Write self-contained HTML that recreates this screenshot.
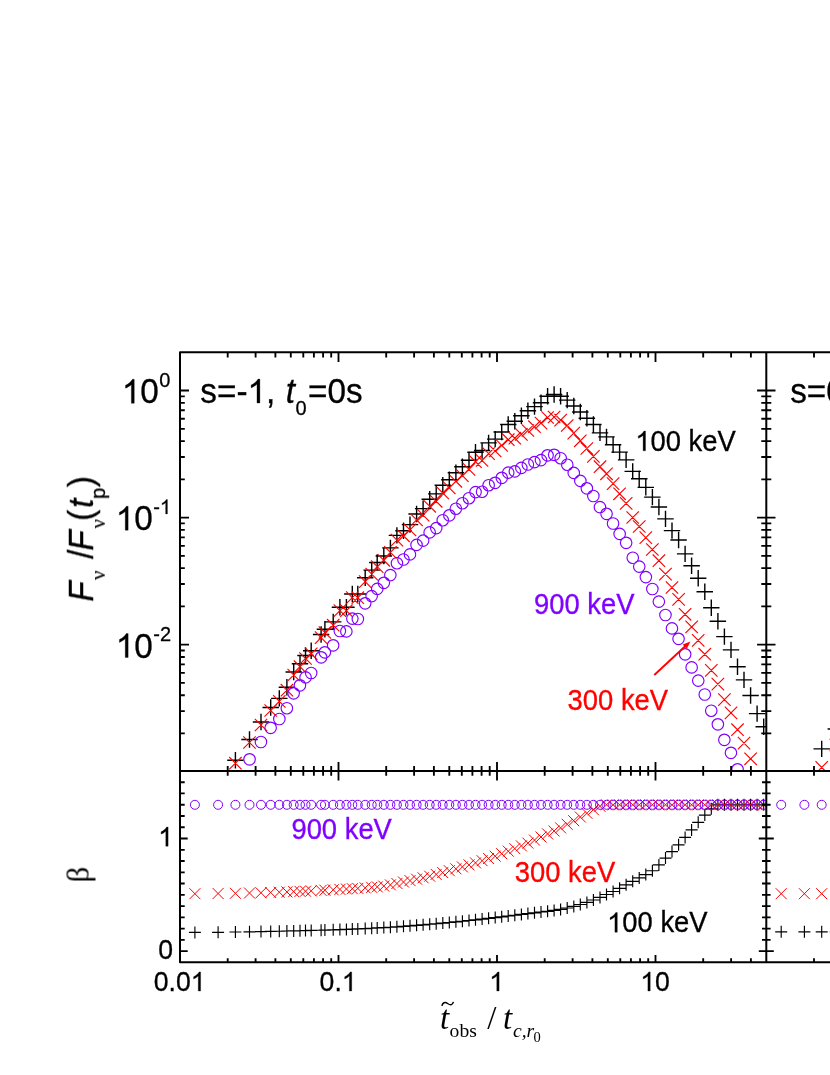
<!DOCTYPE html>
<html><head><meta charset="utf-8"><title>chart</title>
<style>html,body{margin:0;padding:0;background:#fff}svg{display:block}text{font-family:"Liberation Sans",sans-serif;fill:#000}.ser{font-family:"Liberation Serif",serif}</style></head><body>
<svg width="830" height="1075" viewBox="0 0 830 1075">
<rect width="830" height="1075" fill="#fff"/>
<defs>
<clipPath id="c1"><rect x="180.0" y="352.3" width="586.3" height="418.59999999999997"/></clipPath>
<clipPath id="c2"><rect x="766.3" y="352.3" width="63.700000000000045" height="418.59999999999997"/></clipPath>
<clipPath id="c3"><rect x="180.0" y="770.9" width="586.3" height="191.30000000000007"/></clipPath>
<clipPath id="c4"><rect x="766.3" y="770.9" width="63.700000000000045" height="191.30000000000007"/></clipPath>
</defs>
<g clip-path="url(#c1)">
<path d="M186.7 805.0H203.1M194.9 796.8V813.2M209.9 782.0H226.3M218.1 773.8V790.2M227.2 760.2H243.6M235.4 752.0V768.4M241.3 739.5H257.7M249.5 731.3V747.7M252.8 722.0H269.2M261.0 713.8V730.2M262.5 707.5H278.9M270.7 699.3V715.7M271.1 698.4H287.5M279.3 690.2V706.6M278.7 687.2H295.1M286.9 679.0V695.4M285.5 672.0H301.9M293.7 663.8V680.2M291.8 663.7H308.2M300.0 655.5V671.9M297.3 655.5H313.7M305.5 647.3V663.7M303.0 650.8H319.4M311.2 642.6V659.0M312.9 634.5H329.3M321.1 626.3V642.7M316.7 629.3H333.1M324.9 621.1V637.5M325.0 621.9H341.4M333.2 613.7V630.1M331.7 607.2H348.1M339.9 599.0V615.4M338.2 607.2H354.6M346.4 599.0V615.4M344.1 594.0H360.5M352.3 585.8V602.2M349.6 594.0H366.0M357.8 585.8V602.2M357.0 577.7H373.4M365.2 569.5V585.9M363.5 570.1H379.9M371.7 561.9V578.3M369.1 562.5H385.4M377.2 554.3V570.7M375.6 556.0H392.0M383.8 547.8V564.2M382.2 547.9H398.6M390.4 539.7V556.1M388.7 535.4H405.1M396.9 527.2V543.6M395.3 530.8H411.7M403.5 522.6V539.0M401.8 524.6H418.2M410.0 516.4V532.8M408.4 514.0H424.8M416.6 505.8V522.2M414.9 508.6H431.3M423.1 500.4V516.8M421.5 499.3H437.9M429.7 491.1V507.5M428.0 493.9H444.4M436.2 485.7V502.1M434.6 485.2H450.9M442.8 477.0V493.4M441.1 479.8H457.5M449.3 471.6V488.0M447.7 472.8H464.1M455.9 464.6V481.0M454.2 466.8H470.6M462.4 458.6V475.0M460.8 460.3H477.2M469.0 452.1V468.5M467.3 452.2H483.7M475.5 444.0V460.4M473.9 450.5H490.2M482.1 442.3V458.7M480.4 442.9H496.8M488.6 434.7V451.1M487.0 439.1H503.4M495.2 430.9V447.3M493.5 432.0H509.9M501.7 423.8V440.2M500.1 424.5H516.5M508.2 416.3V432.7M506.6 421.2H523.0M514.8 413.0V429.4M513.1 415.8H529.6M521.4 407.6V424.0M519.7 410.7H536.1M527.9 402.5V418.9M526.2 406.6H542.7M534.5 398.4V414.8M532.8 402.8H549.2M541.0 394.6V411.0M539.4 396.3H555.8M547.6 388.1V404.5M545.9 394.5H562.3M554.1 386.3V402.7M552.4 396.2H568.9M560.6 388.0V404.4M559.0 400.1H575.4M567.2 391.9V408.3M565.5 406.0H582.0M573.8 397.8V414.2M572.1 412.0H588.5M580.3 403.8V420.2M578.6 418.2H595.1M586.9 410.0V426.4M585.2 424.5H601.6M593.4 416.3V432.7M591.8 432.9H608.2M600.0 424.7V441.1M598.3 436.9H614.7M606.5 428.7V445.1M604.9 444.7H621.3M613.1 436.5V452.9M611.4 452.1H627.8M619.6 443.9V460.3M617.9 459.9H634.4M626.1 451.7V468.1M624.5 471.4H640.9M632.7 463.2V479.6M631.0 478.7H647.5M639.2 470.5V486.9M637.6 487.4H654.0M645.8 479.2V495.6M644.1 497.1H660.6M652.4 488.9V505.3M650.7 507.0H667.1M658.9 498.8V515.2M657.2 518.9H673.7M665.5 510.7V527.1M663.8 530.6H680.2M672.0 522.4V538.8M670.4 540.0H686.8M678.6 531.8V548.2M676.9 553.9H693.3M685.1 545.7V562.1M683.4 565.8H699.9M691.6 557.6V574.0M690.0 578.2H706.4M698.2 570.0V586.4M696.5 591.8H713.0M704.8 583.6V600.0M703.1 607.8H719.5M711.3 599.6V616.0M709.6 621.2H726.1M717.9 613.0V629.4M716.2 636.6H732.6M724.4 628.4V644.8M722.8 649.9H739.2M731.0 641.7V658.1M729.3 666.7H745.7M737.5 658.5V674.9M735.8 679.9H752.2M744.0 671.7V688.1M742.4 695.5H758.8M750.6 687.3V703.7M748.9 713.6H765.4M757.1 705.4V721.8M755.5 726.7H771.9M763.7 718.5V734.9" stroke="#000000" stroke-width="1.4" fill="none"/>
<path d="M188.7 801.8L201.1 814.2M188.7 814.2L201.1 801.8M211.9 778.8L224.3 791.2M211.9 791.2L224.3 778.8M229.2 757.0L241.6 769.4M229.2 769.4L241.6 757.0M243.3 736.3L255.7 748.7M243.3 748.7L255.7 736.3M254.8 718.8L267.2 731.2M254.8 731.2L267.2 718.8M264.5 704.3L276.9 716.7M264.5 716.7L276.9 704.3M273.1 695.2L285.5 707.6M273.1 707.6L285.5 695.2M280.7 684.0L293.1 696.4M280.7 696.4L293.1 684.0M287.5 668.8L299.9 681.2M287.5 681.2L299.9 668.8M293.8 660.5L306.2 672.9M293.8 672.9L306.2 660.5M299.3 652.3L311.7 664.7M299.3 664.7L311.7 652.3M305.0 647.6L317.4 660.0M305.0 660.0L317.4 647.6M314.9 631.4L327.3 643.8M314.9 643.8L327.3 631.4M318.7 626.3L331.1 638.7M318.7 638.7L331.1 626.3M327.0 619.0L339.4 631.4M327.0 631.4L339.4 619.0M333.7 604.4L346.1 616.8M333.7 616.8L346.1 604.4M340.2 604.5L352.6 616.9M340.2 616.9L352.6 604.5M346.1 591.4L358.5 603.8M346.1 603.8L358.5 591.4M351.6 591.5L364.0 603.9M351.6 603.9L364.0 591.5M359.0 575.4L371.4 587.8M359.0 587.8L371.4 575.4M365.5 567.9L377.9 580.3M365.5 580.3L377.9 567.9M371.1 560.4L383.4 572.8M371.1 572.8L383.4 560.4M377.6 554.1L390.0 566.5M377.6 566.5L390.0 554.1M384.2 546.2L396.6 558.6M384.2 558.6L396.6 546.2M390.7 533.9L403.1 546.3M390.7 546.3L403.1 533.9M397.3 529.6L409.7 542.0M397.3 542.0L409.7 529.6M403.8 523.7L416.2 536.1M403.8 536.1L416.2 523.7M410.4 513.7L422.8 526.1M410.4 526.1L422.8 513.7M416.9 508.9L429.3 521.3M416.9 521.3L429.3 508.9M423.5 500.1L435.9 512.5M423.5 512.5L435.9 500.1M430.0 495.1L442.4 507.5M430.0 507.5L442.4 495.1M436.6 486.8L448.9 499.2M436.6 499.2L448.9 486.8M443.1 481.7L455.5 494.1M443.1 494.1L455.5 481.7M449.7 475.1L462.1 487.5M449.7 487.5L462.1 475.1M456.2 469.4L468.6 481.8M456.2 481.8L468.6 469.4M462.8 463.2L475.2 475.6M462.8 475.6L475.2 463.2M469.3 455.5L481.7 467.9M469.3 467.9L481.7 455.5M475.9 454.3L488.2 466.7M475.9 466.7L488.2 454.3M482.4 447.4L494.8 459.8M482.4 459.8L494.8 447.4M489.0 444.8L501.4 457.2M489.0 457.2L501.4 444.8M495.5 439.2L507.9 451.6M495.5 451.6L507.9 439.2M502.1 433.5L514.5 445.9M502.1 445.9L514.5 433.5M508.6 432.0L521.0 444.4M508.6 444.4L521.0 432.0M515.1 428.2L527.6 440.6M515.1 440.6L527.6 428.2M521.7 424.3L534.1 436.7M521.7 436.7L534.1 424.3M528.2 420.5L540.7 432.9M528.2 432.9L540.7 420.5M534.8 416.9L547.2 429.3M534.8 429.3L547.2 416.9M541.4 411.3L553.8 423.7M541.4 423.7L553.8 411.3M547.9 410.8L560.3 423.2M547.9 423.2L560.3 410.8M554.4 413.9L566.9 426.3M554.4 426.3L566.9 413.9M561.0 419.3L573.4 431.7M561.0 431.7L573.4 419.3M567.5 426.9L580.0 439.3M567.5 439.3L580.0 426.9M574.1 434.6L586.5 447.0M574.1 447.0L586.5 434.6M580.6 442.3L593.1 454.7M580.6 454.7L593.1 442.3M587.2 450.2L599.6 462.6M587.2 462.6L599.6 450.2M593.8 460.5L606.2 472.9M593.8 472.9L606.2 460.5M600.3 467.6L612.7 480.0M600.3 480.0L612.7 467.6M606.9 477.4L619.3 489.8M606.9 489.8L619.3 477.4M613.4 487.6L625.8 500.0M613.4 500.0L625.8 487.6M619.9 497.2L632.4 509.6M619.9 509.6L632.4 497.2M626.5 511.3L638.9 523.7M626.5 523.7L638.9 511.3M633.0 520.3L645.5 532.7M633.0 532.7L645.5 520.3M639.6 531.4L652.0 543.8M639.6 543.8L652.0 531.4M646.1 543.3L658.6 555.7M646.1 555.7L658.6 543.3M652.7 554.5L665.1 566.9M652.7 566.9L665.1 554.5M659.2 567.9L671.7 580.3M659.2 580.3L671.7 567.9M665.8 581.3L678.2 593.7M665.8 593.7L678.2 581.3M672.4 593.2L684.8 605.6M672.4 605.6L684.8 593.2M678.9 608.1L691.3 620.5M678.9 620.5L691.3 608.1M685.4 620.7L697.9 633.1M685.4 633.1L697.9 620.7M692.0 634.2L704.4 646.6M692.0 646.6L704.4 634.2M698.5 648.0L711.0 660.4M698.5 660.4L711.0 648.0M705.1 664.2L717.5 676.6M705.1 676.6L717.5 664.2M711.6 677.9L724.1 690.3M711.6 690.3L724.1 677.9M718.2 693.4L730.6 705.8M718.2 705.8L730.6 693.4M724.8 706.7L737.2 719.1M724.8 719.1L737.2 706.7M731.3 723.5L743.7 735.9M731.3 735.9L743.7 723.5M737.8 736.9L750.2 749.3M737.8 749.3L750.2 736.9M744.4 752.6L756.8 765.0M744.4 765.0L756.8 752.6M750.9 770.7L763.4 783.1M750.9 783.1L763.4 770.7M757.5 783.9L769.9 796.3M757.5 796.3L769.9 783.9" stroke="#ff0000" stroke-width="1.15" fill="none"/>
<path d="M189.2 824.5a5.75 5.75 0 1 0 11.5 0a5.75 5.75 0 1 0 -11.5 0M212.3 801.6a5.75 5.75 0 1 0 11.5 0a5.75 5.75 0 1 0 -11.5 0M229.7 779.9a5.75 5.75 0 1 0 11.5 0a5.75 5.75 0 1 0 -11.5 0M243.8 759.3a5.75 5.75 0 1 0 11.5 0a5.75 5.75 0 1 0 -11.5 0M255.2 742.0a5.75 5.75 0 1 0 11.5 0a5.75 5.75 0 1 0 -11.5 0M264.9 727.8a5.75 5.75 0 1 0 11.5 0a5.75 5.75 0 1 0 -11.5 0M273.6 719.0a5.75 5.75 0 1 0 11.5 0a5.75 5.75 0 1 0 -11.5 0M281.1 708.2a5.75 5.75 0 1 0 11.5 0a5.75 5.75 0 1 0 -11.5 0M287.9 693.3a5.75 5.75 0 1 0 11.5 0a5.75 5.75 0 1 0 -11.5 0M294.2 685.3a5.75 5.75 0 1 0 11.5 0a5.75 5.75 0 1 0 -11.5 0M299.8 677.4a5.75 5.75 0 1 0 11.5 0a5.75 5.75 0 1 0 -11.5 0M305.4 673.0a5.75 5.75 0 1 0 11.5 0a5.75 5.75 0 1 0 -11.5 0M315.4 657.3a5.75 5.75 0 1 0 11.5 0a5.75 5.75 0 1 0 -11.5 0M319.1 652.3a5.75 5.75 0 1 0 11.5 0a5.75 5.75 0 1 0 -11.5 0M327.4 645.3a5.75 5.75 0 1 0 11.5 0a5.75 5.75 0 1 0 -11.5 0M334.1 631.0a5.75 5.75 0 1 0 11.5 0a5.75 5.75 0 1 0 -11.5 0M340.6 631.4a5.75 5.75 0 1 0 11.5 0a5.75 5.75 0 1 0 -11.5 0M346.6 618.6a5.75 5.75 0 1 0 11.5 0a5.75 5.75 0 1 0 -11.5 0M352.1 619.0a5.75 5.75 0 1 0 11.5 0a5.75 5.75 0 1 0 -11.5 0M359.4 603.3a5.75 5.75 0 1 0 11.5 0a5.75 5.75 0 1 0 -11.5 0M365.9 596.1a5.75 5.75 0 1 0 11.5 0a5.75 5.75 0 1 0 -11.5 0M371.5 588.9a5.75 5.75 0 1 0 11.5 0a5.75 5.75 0 1 0 -11.5 0M378.1 582.8a5.75 5.75 0 1 0 11.5 0a5.75 5.75 0 1 0 -11.5 0M384.6 575.1a5.75 5.75 0 1 0 11.5 0a5.75 5.75 0 1 0 -11.5 0M391.2 563.2a5.75 5.75 0 1 0 11.5 0a5.75 5.75 0 1 0 -11.5 0M397.7 559.5a5.75 5.75 0 1 0 11.5 0a5.75 5.75 0 1 0 -11.5 0M404.2 554.4a5.75 5.75 0 1 0 11.5 0a5.75 5.75 0 1 0 -11.5 0M410.8 544.9a5.75 5.75 0 1 0 11.5 0a5.75 5.75 0 1 0 -11.5 0M417.4 540.6a5.75 5.75 0 1 0 11.5 0a5.75 5.75 0 1 0 -11.5 0M423.9 532.4a5.75 5.75 0 1 0 11.5 0a5.75 5.75 0 1 0 -11.5 0M430.5 528.1a5.75 5.75 0 1 0 11.5 0a5.75 5.75 0 1 0 -11.5 0M437.0 520.2a5.75 5.75 0 1 0 11.5 0a5.75 5.75 0 1 0 -11.5 0M443.6 515.3a5.75 5.75 0 1 0 11.5 0a5.75 5.75 0 1 0 -11.5 0M450.1 508.7a5.75 5.75 0 1 0 11.5 0a5.75 5.75 0 1 0 -11.5 0M456.7 503.2a5.75 5.75 0 1 0 11.5 0a5.75 5.75 0 1 0 -11.5 0M463.2 498.2a5.75 5.75 0 1 0 11.5 0a5.75 5.75 0 1 0 -11.5 0M469.8 492.1a5.75 5.75 0 1 0 11.5 0a5.75 5.75 0 1 0 -11.5 0M476.3 491.7a5.75 5.75 0 1 0 11.5 0a5.75 5.75 0 1 0 -11.5 0M482.9 485.2a5.75 5.75 0 1 0 11.5 0a5.75 5.75 0 1 0 -11.5 0M489.4 482.8a5.75 5.75 0 1 0 11.5 0a5.75 5.75 0 1 0 -11.5 0M496.0 477.8a5.75 5.75 0 1 0 11.5 0a5.75 5.75 0 1 0 -11.5 0M502.5 472.6a5.75 5.75 0 1 0 11.5 0a5.75 5.75 0 1 0 -11.5 0M509.1 471.4a5.75 5.75 0 1 0 11.5 0a5.75 5.75 0 1 0 -11.5 0M515.6 467.9a5.75 5.75 0 1 0 11.5 0a5.75 5.75 0 1 0 -11.5 0M522.1 464.5a5.75 5.75 0 1 0 11.5 0a5.75 5.75 0 1 0 -11.5 0M528.7 462.1a5.75 5.75 0 1 0 11.5 0a5.75 5.75 0 1 0 -11.5 0M535.2 460.1a5.75 5.75 0 1 0 11.5 0a5.75 5.75 0 1 0 -11.5 0M541.8 455.3a5.75 5.75 0 1 0 11.5 0a5.75 5.75 0 1 0 -11.5 0M548.4 454.8a5.75 5.75 0 1 0 11.5 0a5.75 5.75 0 1 0 -11.5 0M554.9 458.2a5.75 5.75 0 1 0 11.5 0a5.75 5.75 0 1 0 -11.5 0M561.5 464.7a5.75 5.75 0 1 0 11.5 0a5.75 5.75 0 1 0 -11.5 0M568.0 472.9a5.75 5.75 0 1 0 11.5 0a5.75 5.75 0 1 0 -11.5 0M574.6 480.9a5.75 5.75 0 1 0 11.5 0a5.75 5.75 0 1 0 -11.5 0M581.1 488.3a5.75 5.75 0 1 0 11.5 0a5.75 5.75 0 1 0 -11.5 0M587.6 496.0a5.75 5.75 0 1 0 11.5 0a5.75 5.75 0 1 0 -11.5 0M594.2 507.1a5.75 5.75 0 1 0 11.5 0a5.75 5.75 0 1 0 -11.5 0M600.8 513.8a5.75 5.75 0 1 0 11.5 0a5.75 5.75 0 1 0 -11.5 0M607.3 523.5a5.75 5.75 0 1 0 11.5 0a5.75 5.75 0 1 0 -11.5 0M613.9 533.9a5.75 5.75 0 1 0 11.5 0a5.75 5.75 0 1 0 -11.5 0M620.4 542.8a5.75 5.75 0 1 0 11.5 0a5.75 5.75 0 1 0 -11.5 0M627.0 557.7a5.75 5.75 0 1 0 11.5 0a5.75 5.75 0 1 0 -11.5 0M633.5 566.6a5.75 5.75 0 1 0 11.5 0a5.75 5.75 0 1 0 -11.5 0M640.1 577.1a5.75 5.75 0 1 0 11.5 0a5.75 5.75 0 1 0 -11.5 0M646.6 589.0a5.75 5.75 0 1 0 11.5 0a5.75 5.75 0 1 0 -11.5 0M653.1 601.6a5.75 5.75 0 1 0 11.5 0a5.75 5.75 0 1 0 -11.5 0M659.7 615.0a5.75 5.75 0 1 0 11.5 0a5.75 5.75 0 1 0 -11.5 0M666.2 628.4a5.75 5.75 0 1 0 11.5 0a5.75 5.75 0 1 0 -11.5 0M672.8 638.8a5.75 5.75 0 1 0 11.5 0a5.75 5.75 0 1 0 -11.5 0M679.4 654.3a5.75 5.75 0 1 0 11.5 0a5.75 5.75 0 1 0 -11.5 0M685.9 667.4a5.75 5.75 0 1 0 11.5 0a5.75 5.75 0 1 0 -11.5 0M692.5 680.6a5.75 5.75 0 1 0 11.5 0a5.75 5.75 0 1 0 -11.5 0M699.0 694.5a5.75 5.75 0 1 0 11.5 0a5.75 5.75 0 1 0 -11.5 0M705.5 710.7a5.75 5.75 0 1 0 11.5 0a5.75 5.75 0 1 0 -11.5 0M712.1 724.3a5.75 5.75 0 1 0 11.5 0a5.75 5.75 0 1 0 -11.5 0M718.6 739.8a5.75 5.75 0 1 0 11.5 0a5.75 5.75 0 1 0 -11.5 0M725.2 752.8a5.75 5.75 0 1 0 11.5 0a5.75 5.75 0 1 0 -11.5 0M731.8 769.3a5.75 5.75 0 1 0 11.5 0a5.75 5.75 0 1 0 -11.5 0M738.3 782.5a5.75 5.75 0 1 0 11.5 0a5.75 5.75 0 1 0 -11.5 0M744.9 798.0a5.75 5.75 0 1 0 11.5 0a5.75 5.75 0 1 0 -11.5 0M751.4 816.1a5.75 5.75 0 1 0 11.5 0a5.75 5.75 0 1 0 -11.5 0M758.0 829.2a5.75 5.75 0 1 0 11.5 0a5.75 5.75 0 1 0 -11.5 0" stroke="#8000ff" stroke-width="1.15" fill="none"/>
</g>
<g clip-path="url(#c3)">
<path d="M188.9 932.4H200.9M194.9 926.4V938.4M212.1 932.3H224.1M218.1 926.3V938.3M229.4 932.0H241.4M235.4 926.0V938.0M243.5 931.8H255.5M249.5 925.8V937.8M255.0 931.6H267.0M261.0 925.6V937.6M264.7 931.4H276.7M270.7 925.4V937.4M273.3 931.2H285.3M279.3 925.2V937.2M280.9 931.0H292.9M286.9 925.0V937.0M287.7 930.9H299.7M293.7 924.9V936.9M294.0 930.7H306.0M300.0 924.7V936.7M299.5 930.6H311.5M305.5 924.6V936.6M305.2 930.4H317.2M311.2 924.4V936.4M315.1 930.2H327.1M321.1 924.2V936.2M318.9 930.1H330.9M324.9 924.1V936.1M327.2 929.8H339.2M333.2 923.8V935.8M333.9 929.6H345.9M339.9 923.6V935.6M340.4 929.4H352.4M346.4 923.4V935.4M346.3 929.1H358.3M352.3 923.1V935.1M351.8 928.9H363.8M357.8 922.9V934.9M359.2 928.6H371.2M365.2 922.6V934.6M365.7 928.2H377.7M371.7 922.2V934.2M371.2 927.9H383.2M377.2 921.9V933.9M377.8 927.6H389.8M383.8 921.6V933.6M384.4 927.2H396.4M390.4 921.2V933.2M390.9 926.8H402.9M396.9 920.8V932.8M397.5 926.3H409.5M403.5 920.3V932.3M404.0 925.8H416.0M410.0 919.8V931.8M410.6 925.3H422.6M416.6 919.3V931.3M417.1 924.8H429.1M423.1 918.8V930.8M423.7 924.2H435.7M429.7 918.2V930.2M430.2 923.7H442.2M436.2 917.7V929.7M436.8 923.1H448.8M442.8 917.1V929.1M443.3 922.5H455.3M449.3 916.5V928.5M449.9 921.8H461.9M455.9 915.8V927.8M456.4 921.2H468.4M462.4 915.2V927.2M463.0 920.5H475.0M469.0 914.5V926.5M469.5 919.8H481.5M475.5 913.8V925.8M476.1 919.1H488.1M482.1 913.1V925.1M482.6 918.3H494.6M488.6 912.3V924.3M489.2 917.6H501.2M495.2 911.6V923.6M495.7 916.8H507.7M501.7 910.8V922.8M502.2 916.0H514.2M508.2 910.0V922.0M508.8 915.2H520.8M514.8 909.2V921.2M515.4 914.4H527.4M521.4 908.4V920.4M521.9 913.6H533.9M527.9 907.6V919.6M528.5 912.8H540.5M534.5 906.8V918.8M535.0 912.0H547.0M541.0 906.0V918.0M541.6 911.3H553.6M547.6 905.3V917.3M548.1 910.4H560.1M554.1 904.4V916.4M554.6 909.4H566.6M560.6 903.4V915.4M561.2 908.0H573.2M567.2 902.0V914.0M567.8 906.4H579.8M573.8 900.4V912.4M574.3 904.5H586.3M580.3 898.5V910.5M580.9 902.4H592.9M586.9 896.4V908.4M587.4 900.0H599.4M593.4 894.0V906.0M594.0 897.4H606.0M600.0 891.4V903.4M600.5 894.5H612.5M606.5 888.5V900.5M607.1 891.5H619.1M613.1 885.5V897.5M613.6 888.3H625.6M619.6 882.3V894.3M620.1 884.8H632.1M626.1 878.8V890.8M626.7 881.3H638.7M632.7 875.3V887.3M633.2 877.9H645.2M639.2 871.9V883.9M639.8 874.6H651.8M645.8 868.6V880.6M646.4 870.7H658.4M652.4 864.7V876.7M652.9 864.9H664.9M658.9 858.9V870.9M659.5 858.1H671.5M665.5 852.1V864.1M666.0 851.6H678.0M672.0 845.6V857.6M672.6 844.8H684.6M678.6 838.8V850.8M679.1 837.4H691.1M685.1 831.4V843.4M685.6 829.9H697.6M691.6 823.9V835.9M692.2 822.3H704.2M698.2 816.3V828.3M698.8 815.1H710.8M704.8 809.1V821.1M705.3 808.8H717.3M711.3 802.8V814.8M711.9 804.8H723.9M717.9 798.8V810.8M718.4 804.8H730.4M724.4 798.8V810.8M725.0 804.8H737.0M731.0 798.8V810.8M731.5 804.8H743.5M737.5 798.8V810.8M738.0 804.8H750.0M744.0 798.8V810.8M744.6 804.8H756.6M750.6 798.8V810.8M751.1 804.8H763.1M757.1 798.8V810.8M757.7 804.8H769.7M763.7 798.8V810.8" stroke="#000000" stroke-width="1.15" fill="none"/>
<path d="M189.4 888.2L200.4 899.2M189.4 899.2L200.4 888.2M212.6 888.0L223.6 899.0M212.6 899.0L223.6 888.0M229.9 887.8L240.9 898.8M229.9 898.8L240.9 887.8M244.0 887.5L255.0 898.5M244.0 898.5L255.0 887.5M255.5 887.3L266.5 898.3M255.5 898.3L266.5 887.3M265.2 887.0L276.2 898.0M265.2 898.0L276.2 887.0M273.8 886.7L284.8 897.7M273.8 897.7L284.8 886.7M281.4 886.4L292.4 897.4M281.4 897.4L292.4 886.4M288.2 886.1L299.2 897.1M288.2 897.1L299.2 886.1M294.5 885.9L305.5 896.9M294.5 896.9L305.5 885.9M300.0 885.7L311.0 896.7M300.0 896.7L311.0 885.7M305.7 885.4L316.7 896.4M305.7 896.4L316.7 885.4M315.6 884.9L326.6 895.9M315.6 895.9L326.6 884.9M319.4 884.7L330.4 895.7M319.4 895.7L330.4 884.7M327.7 884.3L338.7 895.3M327.7 895.3L338.7 884.3M334.4 883.9L345.4 894.9M334.4 894.9L345.4 883.9M340.9 883.5L351.9 894.5M340.9 894.5L351.9 883.5M346.8 883.2L357.8 894.2M346.8 894.2L357.8 883.2M352.3 882.9L363.3 893.9M352.3 893.9L363.3 882.9M359.7 882.4L370.7 893.4M359.7 893.4L370.7 882.4M366.2 881.9L377.2 892.9M366.2 892.9L377.2 881.9M371.8 881.4L382.8 892.4M371.8 892.4L382.8 881.4M378.3 880.6L389.3 891.6M378.3 891.6L389.3 880.6M384.9 879.4L395.9 890.4M384.9 890.4L395.9 879.4M391.4 878.0L402.4 889.0M391.4 889.0L402.4 878.0M398.0 876.5L409.0 887.5M398.0 887.5L409.0 876.5M404.5 875.1L415.5 886.1M404.5 886.1L415.5 875.1M411.1 873.7L422.1 884.7M411.1 884.7L422.1 873.7M417.6 872.3L428.6 883.3M417.6 883.3L428.6 872.3M424.2 870.7L435.2 881.7M424.2 881.7L435.2 870.7M430.7 868.9L441.7 879.9M430.7 879.9L441.7 868.9M437.2 867.1L448.2 878.1M437.2 878.1L448.2 867.1M443.8 865.2L454.8 876.2M443.8 876.2L454.8 865.2M450.4 863.3L461.4 874.3M450.4 874.3L461.4 863.3M456.9 861.4L467.9 872.4M456.9 872.4L467.9 861.4M463.5 859.4L474.5 870.4M463.5 870.4L474.5 859.4M470.0 857.4L481.0 868.4M470.0 868.4L481.0 857.4M476.6 855.2L487.6 866.2M476.6 866.2L487.6 855.2M483.1 853.0L494.1 864.0M483.1 864.0L494.1 853.0M489.7 850.7L500.7 861.7M489.7 861.7L500.7 850.7M496.2 848.2L507.2 859.2M496.2 859.2L507.2 848.2M502.8 845.7L513.8 856.7M502.8 856.7L513.8 845.7M509.3 843.1L520.3 854.1M509.3 854.1L520.3 843.1M515.9 840.4L526.9 851.4M515.9 851.4L526.9 840.4M522.4 837.6L533.4 848.6M522.4 848.6L533.4 837.6M529.0 834.6L540.0 845.6M529.0 845.6L540.0 834.6M535.5 831.5L546.5 842.5M535.5 842.5L546.5 831.5M542.1 828.4L553.1 839.4M542.1 839.4L553.1 828.4M548.6 825.5L559.6 836.5M548.6 836.5L559.6 825.5M555.1 822.4L566.1 833.4M555.1 833.4L566.1 822.4M561.7 818.8L572.7 829.8M561.7 829.8L572.7 818.8M568.2 815.2L579.2 826.2M568.2 826.2L579.2 815.2M574.8 811.5L585.8 822.5M574.8 822.5L585.8 811.5M581.4 807.8L592.4 818.8M581.4 818.8L592.4 807.8M587.9 804.2L598.9 815.2M587.9 815.2L598.9 804.2M594.5 800.8L605.5 811.8M594.5 811.8L605.5 800.8M601.0 799.3L612.0 810.3M601.0 810.3L612.0 799.3M607.6 799.3L618.6 810.3M607.6 810.3L618.6 799.3M614.1 799.3L625.1 810.3M614.1 810.3L625.1 799.3M620.6 799.3L631.6 810.3M620.6 810.3L631.6 799.3M627.2 799.3L638.2 810.3M627.2 810.3L638.2 799.3M633.8 799.3L644.8 810.3M633.8 810.3L644.8 799.3M640.3 799.3L651.3 810.3M640.3 810.3L651.3 799.3M646.9 799.3L657.9 810.3M646.9 810.3L657.9 799.3M653.4 799.3L664.4 810.3M653.4 810.3L664.4 799.3M660.0 799.3L671.0 810.3M660.0 810.3L671.0 799.3M666.5 799.3L677.5 810.3M666.5 810.3L677.5 799.3M673.1 799.3L684.1 810.3M673.1 810.3L684.1 799.3M679.6 799.3L690.6 810.3M679.6 810.3L690.6 799.3M686.1 799.3L697.1 810.3M686.1 810.3L697.1 799.3M692.7 799.3L703.7 810.3M692.7 810.3L703.7 799.3M699.2 799.3L710.2 810.3M699.2 810.3L710.2 799.3M705.8 799.3L716.8 810.3M705.8 810.3L716.8 799.3M712.4 799.3L723.4 810.3M712.4 810.3L723.4 799.3M718.9 799.3L729.9 810.3M718.9 810.3L729.9 799.3M725.5 799.3L736.5 810.3M725.5 810.3L736.5 799.3M732.0 799.3L743.0 810.3M732.0 810.3L743.0 799.3M738.5 799.3L749.5 810.3M738.5 810.3L749.5 799.3M745.1 799.3L756.1 810.3M745.1 810.3L756.1 799.3M751.6 799.3L762.6 810.3M751.6 810.3L762.6 799.3M758.2 799.3L769.2 810.3M758.2 810.3L769.2 799.3" stroke="#ff0000" stroke-width="1.0" fill="none"/>
<path d="M190.4 804.8a4.5 4.5 0 1 0 9.0 0a4.5 4.5 0 1 0 -9.0 0M213.6 804.8a4.5 4.5 0 1 0 9.0 0a4.5 4.5 0 1 0 -9.0 0M230.9 804.8a4.5 4.5 0 1 0 9.0 0a4.5 4.5 0 1 0 -9.0 0M245.0 804.8a4.5 4.5 0 1 0 9.0 0a4.5 4.5 0 1 0 -9.0 0M256.5 804.8a4.5 4.5 0 1 0 9.0 0a4.5 4.5 0 1 0 -9.0 0M266.2 804.8a4.5 4.5 0 1 0 9.0 0a4.5 4.5 0 1 0 -9.0 0M274.8 804.8a4.5 4.5 0 1 0 9.0 0a4.5 4.5 0 1 0 -9.0 0M282.4 804.8a4.5 4.5 0 1 0 9.0 0a4.5 4.5 0 1 0 -9.0 0M289.2 804.8a4.5 4.5 0 1 0 9.0 0a4.5 4.5 0 1 0 -9.0 0M295.5 804.8a4.5 4.5 0 1 0 9.0 0a4.5 4.5 0 1 0 -9.0 0M301.0 804.8a4.5 4.5 0 1 0 9.0 0a4.5 4.5 0 1 0 -9.0 0M306.7 804.8a4.5 4.5 0 1 0 9.0 0a4.5 4.5 0 1 0 -9.0 0M316.6 804.8a4.5 4.5 0 1 0 9.0 0a4.5 4.5 0 1 0 -9.0 0M320.4 804.8a4.5 4.5 0 1 0 9.0 0a4.5 4.5 0 1 0 -9.0 0M328.7 804.8a4.5 4.5 0 1 0 9.0 0a4.5 4.5 0 1 0 -9.0 0M335.4 804.8a4.5 4.5 0 1 0 9.0 0a4.5 4.5 0 1 0 -9.0 0M341.9 804.8a4.5 4.5 0 1 0 9.0 0a4.5 4.5 0 1 0 -9.0 0M347.8 804.8a4.5 4.5 0 1 0 9.0 0a4.5 4.5 0 1 0 -9.0 0M353.3 804.8a4.5 4.5 0 1 0 9.0 0a4.5 4.5 0 1 0 -9.0 0M360.7 804.8a4.5 4.5 0 1 0 9.0 0a4.5 4.5 0 1 0 -9.0 0M367.2 804.8a4.5 4.5 0 1 0 9.0 0a4.5 4.5 0 1 0 -9.0 0M372.8 804.8a4.5 4.5 0 1 0 9.0 0a4.5 4.5 0 1 0 -9.0 0M379.3 804.8a4.5 4.5 0 1 0 9.0 0a4.5 4.5 0 1 0 -9.0 0M385.9 804.8a4.5 4.5 0 1 0 9.0 0a4.5 4.5 0 1 0 -9.0 0M392.4 804.8a4.5 4.5 0 1 0 9.0 0a4.5 4.5 0 1 0 -9.0 0M399.0 804.8a4.5 4.5 0 1 0 9.0 0a4.5 4.5 0 1 0 -9.0 0M405.5 804.8a4.5 4.5 0 1 0 9.0 0a4.5 4.5 0 1 0 -9.0 0M412.1 804.8a4.5 4.5 0 1 0 9.0 0a4.5 4.5 0 1 0 -9.0 0M418.6 804.8a4.5 4.5 0 1 0 9.0 0a4.5 4.5 0 1 0 -9.0 0M425.2 804.8a4.5 4.5 0 1 0 9.0 0a4.5 4.5 0 1 0 -9.0 0M431.7 804.8a4.5 4.5 0 1 0 9.0 0a4.5 4.5 0 1 0 -9.0 0M438.2 804.8a4.5 4.5 0 1 0 9.0 0a4.5 4.5 0 1 0 -9.0 0M444.8 804.8a4.5 4.5 0 1 0 9.0 0a4.5 4.5 0 1 0 -9.0 0M451.4 804.8a4.5 4.5 0 1 0 9.0 0a4.5 4.5 0 1 0 -9.0 0M457.9 804.8a4.5 4.5 0 1 0 9.0 0a4.5 4.5 0 1 0 -9.0 0M464.5 804.8a4.5 4.5 0 1 0 9.0 0a4.5 4.5 0 1 0 -9.0 0M471.0 804.8a4.5 4.5 0 1 0 9.0 0a4.5 4.5 0 1 0 -9.0 0M477.6 804.8a4.5 4.5 0 1 0 9.0 0a4.5 4.5 0 1 0 -9.0 0M484.1 804.8a4.5 4.5 0 1 0 9.0 0a4.5 4.5 0 1 0 -9.0 0M490.7 804.8a4.5 4.5 0 1 0 9.0 0a4.5 4.5 0 1 0 -9.0 0M497.2 804.8a4.5 4.5 0 1 0 9.0 0a4.5 4.5 0 1 0 -9.0 0M503.8 804.8a4.5 4.5 0 1 0 9.0 0a4.5 4.5 0 1 0 -9.0 0M510.3 804.8a4.5 4.5 0 1 0 9.0 0a4.5 4.5 0 1 0 -9.0 0M516.9 804.8a4.5 4.5 0 1 0 9.0 0a4.5 4.5 0 1 0 -9.0 0M523.4 804.8a4.5 4.5 0 1 0 9.0 0a4.5 4.5 0 1 0 -9.0 0M530.0 804.8a4.5 4.5 0 1 0 9.0 0a4.5 4.5 0 1 0 -9.0 0M536.5 804.8a4.5 4.5 0 1 0 9.0 0a4.5 4.5 0 1 0 -9.0 0M543.1 804.8a4.5 4.5 0 1 0 9.0 0a4.5 4.5 0 1 0 -9.0 0M549.6 804.8a4.5 4.5 0 1 0 9.0 0a4.5 4.5 0 1 0 -9.0 0M556.1 804.8a4.5 4.5 0 1 0 9.0 0a4.5 4.5 0 1 0 -9.0 0M562.7 804.8a4.5 4.5 0 1 0 9.0 0a4.5 4.5 0 1 0 -9.0 0M569.2 804.8a4.5 4.5 0 1 0 9.0 0a4.5 4.5 0 1 0 -9.0 0M575.8 804.8a4.5 4.5 0 1 0 9.0 0a4.5 4.5 0 1 0 -9.0 0M582.4 804.8a4.5 4.5 0 1 0 9.0 0a4.5 4.5 0 1 0 -9.0 0M588.9 804.8a4.5 4.5 0 1 0 9.0 0a4.5 4.5 0 1 0 -9.0 0M595.5 804.8a4.5 4.5 0 1 0 9.0 0a4.5 4.5 0 1 0 -9.0 0M602.0 804.8a4.5 4.5 0 1 0 9.0 0a4.5 4.5 0 1 0 -9.0 0M608.6 804.8a4.5 4.5 0 1 0 9.0 0a4.5 4.5 0 1 0 -9.0 0M615.1 804.8a4.5 4.5 0 1 0 9.0 0a4.5 4.5 0 1 0 -9.0 0M621.6 804.8a4.5 4.5 0 1 0 9.0 0a4.5 4.5 0 1 0 -9.0 0M628.2 804.8a4.5 4.5 0 1 0 9.0 0a4.5 4.5 0 1 0 -9.0 0M634.8 804.8a4.5 4.5 0 1 0 9.0 0a4.5 4.5 0 1 0 -9.0 0M641.3 804.8a4.5 4.5 0 1 0 9.0 0a4.5 4.5 0 1 0 -9.0 0M647.9 804.8a4.5 4.5 0 1 0 9.0 0a4.5 4.5 0 1 0 -9.0 0M654.4 804.8a4.5 4.5 0 1 0 9.0 0a4.5 4.5 0 1 0 -9.0 0M661.0 804.8a4.5 4.5 0 1 0 9.0 0a4.5 4.5 0 1 0 -9.0 0M667.5 804.8a4.5 4.5 0 1 0 9.0 0a4.5 4.5 0 1 0 -9.0 0M674.1 804.8a4.5 4.5 0 1 0 9.0 0a4.5 4.5 0 1 0 -9.0 0M680.6 804.8a4.5 4.5 0 1 0 9.0 0a4.5 4.5 0 1 0 -9.0 0M687.1 804.8a4.5 4.5 0 1 0 9.0 0a4.5 4.5 0 1 0 -9.0 0M693.7 804.8a4.5 4.5 0 1 0 9.0 0a4.5 4.5 0 1 0 -9.0 0M700.2 804.8a4.5 4.5 0 1 0 9.0 0a4.5 4.5 0 1 0 -9.0 0M706.8 804.8a4.5 4.5 0 1 0 9.0 0a4.5 4.5 0 1 0 -9.0 0M713.4 804.8a4.5 4.5 0 1 0 9.0 0a4.5 4.5 0 1 0 -9.0 0M719.9 804.8a4.5 4.5 0 1 0 9.0 0a4.5 4.5 0 1 0 -9.0 0M726.5 804.8a4.5 4.5 0 1 0 9.0 0a4.5 4.5 0 1 0 -9.0 0M733.0 804.8a4.5 4.5 0 1 0 9.0 0a4.5 4.5 0 1 0 -9.0 0M739.5 804.8a4.5 4.5 0 1 0 9.0 0a4.5 4.5 0 1 0 -9.0 0M746.1 804.8a4.5 4.5 0 1 0 9.0 0a4.5 4.5 0 1 0 -9.0 0M752.6 804.8a4.5 4.5 0 1 0 9.0 0a4.5 4.5 0 1 0 -9.0 0M759.2 804.8a4.5 4.5 0 1 0 9.0 0a4.5 4.5 0 1 0 -9.0 0" stroke="#8000ff" stroke-width="1.0" fill="none"/>
</g>
<g clip-path="url(#c2)">
<path d="M773.0 800.0H789.4M781.2 791.8V808.2M796.2 786.0H812.6M804.4 777.8V794.2M813.5 748.9H829.9M821.7 740.7V757.1M827.6 729.0H844.0M835.8 720.8V737.2M839.1 712.0H855.5M847.3 703.8V720.2" stroke="#000000" stroke-width="1.4" fill="none"/>
<path d="M775.0 793.8L787.4 806.2M775.0 806.2L787.4 793.8M798.2 783.8L810.6 796.2M798.2 796.2L810.6 783.8M815.5 761.2L827.9 773.6M815.5 773.6L827.9 761.2M829.6 738.8L842.0 751.2M829.6 751.2L842.0 738.8M841.1 719.8L853.5 732.2M841.1 732.2L853.5 719.8" stroke="#ff0000" stroke-width="1.15" fill="none"/>
</g>
<g clip-path="url(#c4)">
<path d="M775.2 931.8H787.2M781.2 925.8V937.8M798.4 931.8H810.4M804.4 925.8V937.8M815.7 931.8H827.7M821.7 925.8V937.8M829.8 931.8H841.8M835.8 925.8V937.8M841.3 931.8H853.3M847.3 925.8V937.8" stroke="#000000" stroke-width="1.15" fill="none"/>
<path d="M775.7 888.2L786.7 899.2M775.7 899.2L786.7 888.2M798.9 888.2L809.9 899.2M798.9 899.2L809.9 888.2M816.2 888.2L827.2 899.2M816.2 899.2L827.2 888.2M830.3 888.2L841.3 899.2M830.3 899.2L841.3 888.2M841.8 888.2L852.8 899.2M841.8 899.2L852.8 888.2" stroke="#ff0000" stroke-width="1.0" fill="none"/>
<path d="M776.7 804.8a4.5 4.5 0 1 0 9.0 0a4.5 4.5 0 1 0 -9.0 0M799.9 804.8a4.5 4.5 0 1 0 9.0 0a4.5 4.5 0 1 0 -9.0 0M817.2 804.8a4.5 4.5 0 1 0 9.0 0a4.5 4.5 0 1 0 -9.0 0M831.3 804.8a4.5 4.5 0 1 0 9.0 0a4.5 4.5 0 1 0 -9.0 0M842.8 804.8a4.5 4.5 0 1 0 9.0 0a4.5 4.5 0 1 0 -9.0 0" stroke="#8000ff" stroke-width="1.0" fill="none"/>
</g>
<path d="M227.7 352.3V357.6M227.7 766.0V775.8M227.7 958.2V962.2M255.6 352.3V357.6M255.6 766.0V775.8M255.6 958.2V962.2M275.4 352.3V357.6M275.4 766.0V775.8M275.4 958.2V962.2M290.8 352.3V357.6M290.8 766.0V775.8M290.8 958.2V962.2M303.3 352.3V357.6M303.3 766.0V775.8M303.3 958.2V962.2M313.9 352.3V357.6M313.9 766.0V775.8M313.9 958.2V962.2M323.1 352.3V357.6M323.1 766.0V775.8M323.1 958.2V962.2M331.2 352.3V357.6M331.2 766.0V775.8M331.2 958.2V962.2M338.5 352.3V362.0M338.5 762.0V780.5M338.5 954.9V962.2M386.2 352.3V357.6M386.2 766.0V775.8M386.2 958.2V962.2M414.1 352.3V357.6M414.1 766.0V775.8M414.1 958.2V962.2M433.9 352.3V357.6M433.9 766.0V775.8M433.9 958.2V962.2M449.3 352.3V357.6M449.3 766.0V775.8M449.3 958.2V962.2M461.8 352.3V357.6M461.8 766.0V775.8M461.8 958.2V962.2M472.4 352.3V357.6M472.4 766.0V775.8M472.4 958.2V962.2M481.6 352.3V357.6M481.6 766.0V775.8M481.6 958.2V962.2M489.7 352.3V357.6M489.7 766.0V775.8M489.7 958.2V962.2M497.0 352.3V362.0M497.0 762.0V780.5M497.0 954.9V962.2M544.7 352.3V357.6M544.7 766.0V775.8M544.7 958.2V962.2M572.6 352.3V357.6M572.6 766.0V775.8M572.6 958.2V962.2M592.4 352.3V357.6M592.4 766.0V775.8M592.4 958.2V962.2M607.8 352.3V357.6M607.8 766.0V775.8M607.8 958.2V962.2M620.3 352.3V357.6M620.3 766.0V775.8M620.3 958.2V962.2M630.9 352.3V357.6M630.9 766.0V775.8M630.9 958.2V962.2M640.1 352.3V357.6M640.1 766.0V775.8M640.1 958.2V962.2M648.2 352.3V357.6M648.2 766.0V775.8M648.2 958.2V962.2M655.5 352.3V362.0M655.5 762.0V780.5M655.5 954.9V962.2M703.2 352.3V357.6M703.2 766.0V775.8M703.2 958.2V962.2M731.1 352.3V357.6M731.1 766.0V775.8M731.1 958.2V962.2M750.9 352.3V357.6M750.9 766.0V775.8M750.9 958.2V962.2M814.0 352.3V357.6M814.0 766.0V775.8M814.0 958.2V962.2M180.0 733.4H184.8M761.3 733.4H771.3M180.0 711.1H184.8M761.3 711.1H771.3M180.0 695.2H184.8M761.3 695.2H771.3M180.0 682.9H184.8M761.3 682.9H771.3M180.0 672.8H184.8M761.3 672.8H771.3M180.0 664.3H184.8M761.3 664.3H771.3M180.0 657.0H184.8M761.3 657.0H771.3M180.0 650.5H184.8M761.3 650.5H771.3M180.0 644.6H189.0M757.1 644.6H775.5M180.0 606.4H184.8M761.3 606.4H771.3M180.0 584.0H184.8M761.3 584.0H771.3M180.0 568.1H184.8M761.3 568.1H771.3M180.0 555.8H184.8M761.3 555.8H771.3M180.0 545.8H184.8M761.3 545.8H771.3M180.0 537.3H184.8M761.3 537.3H771.3M180.0 529.9H184.8M761.3 529.9H771.3M180.0 523.4H184.8M761.3 523.4H771.3M180.0 517.6H189.0M757.1 517.6H775.5M180.0 479.3H184.8M761.3 479.3H771.3M180.0 457.0H184.8M761.3 457.0H771.3M180.0 441.1H184.8M761.3 441.1H771.3M180.0 428.8H184.8M761.3 428.8H771.3M180.0 418.7H184.8M761.3 418.7H771.3M180.0 410.2H184.8M761.3 410.2H771.3M180.0 402.9H184.8M761.3 402.9H771.3M180.0 396.4H184.8M761.3 396.4H771.3M180.0 390.5H189.0M757.1 390.5H775.5M180.0 951.1H187.7M758.8 951.1H773.8M180.0 939.9H184.7M762.0 939.9H770.6M180.0 928.6H184.7M762.0 928.6H770.6M180.0 917.3H184.7M762.0 917.3H770.6M180.0 906.1H184.7M762.0 906.1H770.6M180.0 894.8H184.7M762.0 894.8H770.6M180.0 883.5H184.7M762.0 883.5H770.6M180.0 872.3H184.7M762.0 872.3H770.6M180.0 861.0H184.7M762.0 861.0H770.6M180.0 849.8H184.7M762.0 849.8H770.6M180.0 838.5H187.7M758.8 838.5H773.8M180.0 827.2H184.7M762.0 827.2H770.6M180.0 816.0H184.7M762.0 816.0H770.6M180.0 804.7H184.7M762.0 804.7H770.6M180.0 793.4H184.7M762.0 793.4H770.6M180.0 782.2H184.7M762.0 782.2H770.6" stroke="#000" stroke-width="1.85" fill="none"/>
<path d="M832 352.3H180.0V962.2H832M180.0 770.9H832M766.3 352.3V962.2" stroke="#000" stroke-width="2.0" fill="none" stroke-linejoin="round"/>
<g opacity="0.999">
<path transform="translate(121.86 403.3) scale(0.01626 -0.01626)" d="M763 0L583 0L583 1147Q518 1085 412.5 1023Q307 961 223 930L223 1104Q374 1175 487 1276Q600 1377 647 1472L763 1472Z" fill="#000" stroke="#000" stroke-width="18"/>
<text transform="translate(158.9 403.3) scale(1 1.04)" font-size="33.3" text-anchor="end" style="stroke:#000;stroke-width:0.3px;"><tspan style="fill:none;stroke:none">1</tspan>0</text>
<text transform="translate(159.3 387.0) scale(1 1.04)" font-size="20.0" style="stroke:#000;stroke-width:0.3px;">0</text>
<path transform="translate(115.76 530.2) scale(0.01626 -0.01626)" d="M763 0L583 0L583 1147Q518 1085 412.5 1023Q307 961 223 930L223 1104Q374 1175 487 1276Q600 1377 647 1472L763 1472Z" fill="#000" stroke="#000" stroke-width="18"/>
<text transform="translate(152.8 530.2) scale(1 1.04)" font-size="33.3" text-anchor="end" style="stroke:#000;stroke-width:0.3px;"><tspan style="fill:none;stroke:none">1</tspan>0</text>
<path transform="translate(159.96 513.9000000000001) scale(0.00977 -0.00977)" d="M763 0L583 0L583 1147Q518 1085 412.5 1023Q307 961 223 930L223 1104Q374 1175 487 1276Q600 1377 647 1472L763 1472Z" fill="#000" stroke="#000" stroke-width="31"/>
<text transform="translate(153.3 513.9000000000001) scale(1 1.04)" font-size="20.0" style="stroke:#000;stroke-width:0.3px;">-<tspan style="fill:none;stroke:none">1</tspan></text>
<path transform="translate(115.76 657.5) scale(0.01626 -0.01626)" d="M763 0L583 0L583 1147Q518 1085 412.5 1023Q307 961 223 930L223 1104Q374 1175 487 1276Q600 1377 647 1472L763 1472Z" fill="#000" stroke="#000" stroke-width="18"/>
<text transform="translate(152.8 657.5) scale(1 1.04)" font-size="33.3" text-anchor="end" style="stroke:#000;stroke-width:0.3px;"><tspan style="fill:none;stroke:none">1</tspan>0</text>
<text transform="translate(153.3 641.2) scale(1 1.04)" font-size="20.0" style="stroke:#000;stroke-width:0.3px;">-2</text>
<path transform="translate(247.49 403.0) scale(0.01626 -0.01626)" d="M763 0L583 0L583 1147Q518 1085 412.5 1023Q307 961 223 930L223 1104Q374 1175 487 1276Q600 1377 647 1472L763 1472Z" fill="#000" stroke="#000" stroke-width="18"/>
<text transform="translate(200.3 403.0) scale(1 1.04)" font-size="33.3" style="stroke:#000;stroke-width:0.3px;">s=-<tspan style="fill:none;stroke:none">1</tspan>, </text>
<text transform="translate(285.80000000000007 403.0) scale(1 1.04)" font-size="33.3" style="stroke:#000;stroke-width:0.3px;"><tspan font-style="italic">t</tspan></text>
<text transform="translate(295.6000000000001 415.0) scale(1 1.04)" font-size="20.0" style="stroke:#000;stroke-width:0.3px;">0</text>
<text transform="translate(308.1000000000001 403.0) scale(1 1.04)" font-size="33.3" style="stroke:#000;stroke-width:0.3px;">=0s</text>
<text transform="translate(790.2 403.0) scale(1 1.04)" font-size="33.3" style="stroke:#000;stroke-width:0.3px;">s=0, </text>
<text transform="translate(864.8000000000001 403.0) scale(1 1.04)" font-size="33.3" style="stroke:#000;stroke-width:0.3px;"><tspan font-style="italic">t</tspan></text>
<text transform="translate(874.6 415.0) scale(1 1.04)" font-size="20.0" style="stroke:#000;stroke-width:0.3px;">0</text>
<text transform="translate(887.1 403.0) scale(1 1.04)" font-size="33.3" style="stroke:#000;stroke-width:0.3px;">=0s</text>
<path transform="translate(635.30 450.8) scale(0.01338 -0.01338)" d="M763 0L583 0L583 1147Q518 1085 412.5 1023Q307 961 223 930L223 1104Q374 1175 487 1276Q600 1377 647 1472L763 1472Z" fill="#000" stroke="#000" stroke-width="22"/>
<text transform="translate(635.3 450.8) scale(1 1.05)" font-size="27.4" style="stroke:#000;stroke-width:0.3px;"><tspan style="fill:none;stroke:none">1</tspan>00 keV</text>
<text transform="translate(534.0 614.3) scale(1 1.05)" font-size="27.4" style="fill:#8000ff;stroke:#8000ff;stroke-width:0.3px;">900 keV</text>
<text transform="translate(567.6 710.1) scale(1 1.05)" font-size="27.4" style="fill:#ff0000;stroke:#ff0000;stroke-width:0.3px;">300 keV</text>
<path d="M654.3 675.0L686.5 645.0" stroke="#ff0000" stroke-width="1.9" fill="none"/>
<path d="M690.4 641.4L686.7 649.0L682.7 644.6Z" fill="#ff0000"/>
<text transform="translate(291.4 838.8) scale(1 1.05)" font-size="27.4" style="fill:#8000ff;stroke:#8000ff;stroke-width:0.3px;">900 keV</text>
<text transform="translate(514.8 882.3) scale(1 1.05)" font-size="27.4" style="fill:#ff0000;stroke:#ff0000;stroke-width:0.3px;">300 keV</text>
<path transform="translate(607.10 932.2) scale(0.01338 -0.01338)" d="M763 0L583 0L583 1147Q518 1085 412.5 1023Q307 961 223 930L223 1104Q374 1175 487 1276Q600 1377 647 1472L763 1472Z" fill="#000" stroke="#000" stroke-width="22"/>
<text transform="translate(607.1 932.2) scale(1 1.05)" font-size="27.4" style="stroke:#000;stroke-width:0.3px;"><tspan style="fill:none;stroke:none">1</tspan>00 keV</text>
<path transform="translate(158.21 846.2) scale(0.01299 -0.01299)" d="M763 0L583 0L583 1147Q518 1085 412.5 1023Q307 961 223 930L223 1104Q374 1175 487 1276Q600 1377 647 1472L763 1472Z" fill="#000" stroke="#000" stroke-width="23"/>
<text transform="translate(173.0 846.2) scale(1 1.04)" font-size="26.6" text-anchor="end" style="stroke:#000;stroke-width:0.3px;"><tspan style="fill:none;stroke:none">1</tspan></text>
<text transform="translate(173.0 958.6) scale(1 1.04)" font-size="26.6" text-anchor="end" style="stroke:#000;stroke-width:0.3px;">0</text>
<path transform="translate(190.69 991.0) scale(0.01299 -0.01299)" d="M763 0L583 0L583 1147Q518 1085 412.5 1023Q307 961 223 930L223 1104Q374 1175 487 1276Q600 1377 647 1472L763 1472Z" fill="#000" stroke="#000" stroke-width="23"/>
<text transform="translate(179.6 991.0) scale(1 1.04)" font-size="26.6" text-anchor="middle" style="stroke:#000;stroke-width:0.3px;">0.0<tspan style="fill:none;stroke:none">1</tspan></text>
<path transform="translate(341.80 991.0) scale(0.01299 -0.01299)" d="M763 0L583 0L583 1147Q518 1085 412.5 1023Q307 961 223 930L223 1104Q374 1175 487 1276Q600 1377 647 1472L763 1472Z" fill="#000" stroke="#000" stroke-width="23"/>
<text transform="translate(338.1 991.0) scale(1 1.04)" font-size="26.6" text-anchor="middle" style="stroke:#000;stroke-width:0.3px;">0.<tspan style="fill:none;stroke:none">1</tspan></text>
<path transform="translate(489.20 991.0) scale(0.01299 -0.01299)" d="M763 0L583 0L583 1147Q518 1085 412.5 1023Q307 961 223 930L223 1104Q374 1175 487 1276Q600 1377 647 1472L763 1472Z" fill="#000" stroke="#000" stroke-width="23"/>
<text transform="translate(496.6 991.0) scale(1 1.04)" font-size="26.6" text-anchor="middle" style="stroke:#000;stroke-width:0.3px;"><tspan style="fill:none;stroke:none">1</tspan></text>
<path transform="translate(640.31 991.0) scale(0.01299 -0.01299)" d="M763 0L583 0L583 1147Q518 1085 412.5 1023Q307 961 223 930L223 1104Q374 1175 487 1276Q600 1377 647 1472L763 1472Z" fill="#000" stroke="#000" stroke-width="23"/>
<text transform="translate(655.1 991.0) scale(1 1.04)" font-size="26.6" text-anchor="middle" style="stroke:#000;stroke-width:0.3px;"><tspan style="fill:none;stroke:none">1</tspan>0</text>
<g transform="translate(93.0 600.4) rotate(-90)">
<text transform="translate(-1.2 0) scale(1 1.04)" font-size="33.3" style="stroke:#000;stroke-width:0.3px;"><tspan font-style="italic">F</tspan></text>
<text transform="translate(20.6 12.3) scale(1 1)" font-size="20.5" class="ser" style="stroke:#000;stroke-width:0.2px;">&#957;</text>
<text transform="translate(41.5 0) scale(1 1.04)" font-size="33.3" style="stroke:#000;stroke-width:0.3px;">/</text>
<text transform="translate(49.8 0) scale(1 1.04)" font-size="33.3" style="stroke:#000;stroke-width:0.3px;"><tspan font-style="italic">F</tspan></text>
<text transform="translate(72.0 12.3) scale(1 1)" font-size="20.5" class="ser" style="stroke:#000;stroke-width:0.2px;">&#957;</text>
<text transform="translate(79.6 0) scale(1 1.04)" font-size="33.3" style="stroke:#000;stroke-width:0.3px;">(</text>
<text transform="translate(92.4 0) scale(1 1.04)" font-size="33.3" style="stroke:#000;stroke-width:0.3px;"><tspan font-style="italic">t</tspan></text>
<text transform="translate(101.6 12.0) scale(1 1.04)" font-size="20.0" style="stroke:#000;stroke-width:0.3px;">p</text>
<text transform="translate(113.2 0) scale(1 1.04)" font-size="33.3" style="stroke:#000;stroke-width:0.3px;">)</text>
</g>
<g transform="translate(88.5 882.5) rotate(-90)">
<text transform="translate(0 0) scale(1 1)" font-size="31" class="ser">&#946;</text>
</g>
<text transform="translate(440.0 1028.6) scale(1 1)" font-size="33" class="ser"><tspan font-style="italic">t</tspan></text>
<text transform="translate(449.6 1036.9) scale(1 1)" font-size="19.6" class="ser">obs</text>
<text transform="translate(487.2 1028.6) scale(1 1)" font-size="33" class="ser">/</text>
<text transform="translate(502.9 1028.6) scale(1 1)" font-size="33" class="ser"><tspan font-style="italic">t</tspan></text>
<text transform="translate(513.0 1036.9) scale(1 1)" font-size="19.6" class="ser"><tspan font-style="italic">c,r</tspan></text>
<text transform="translate(533.4 1041.7) scale(1 1)" font-size="14.5" class="ser">0</text>
<path d="M441.9 1005.9C442.6 1002.6 445.0 1001.6 447.6 1003.5S452.4 1005.6 453.4 1001.9" stroke="#000" stroke-width="1.5" fill="none" stroke-linecap="butt"/>
</g>
</svg></body></html>
